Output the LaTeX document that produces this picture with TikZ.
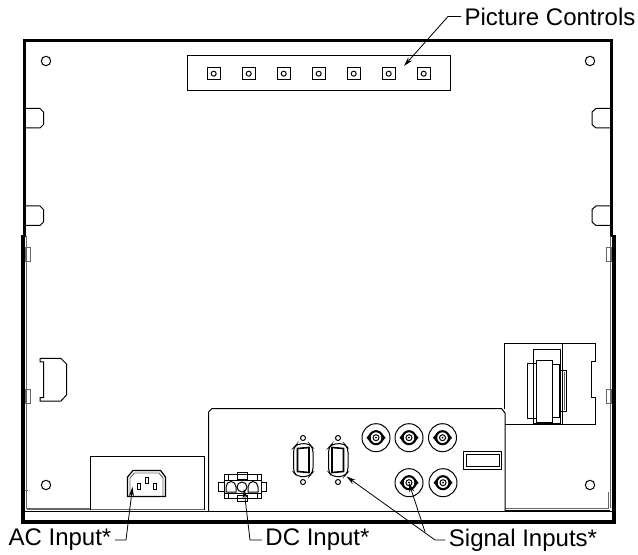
\documentclass[tikz,border=0pt]{standalone}
\usepackage{fontspec}
\usepackage{tikz}
\usetikzlibrary{arrows.meta}
\setmainfont{Liberation Sans}
\tikzset{
	part/.style={line width=0.75pt},
	heavy/.style={line width=2pt},
	faint/.style={line width=0.7pt,black!60},
	calltext/.style={font=\fontsize{18}{20}\selectfont,inner xsep=2.5pt,inner ysep=0pt},
	leader/.style={line width=0.6pt},
	pointer/.style={leader,-{Stealth[length=7pt,width=3.8pt]}},
}
\begin{document}
\begin{tikzpicture}[x=0.75pt,y=-0.75pt]
			\useasboundingbox (0,0) rectangle (638,555);
			% outer frame
			\draw[heavy] (24.5,237) -- (24.5,40.5) -- (611.5,40.5) -- (611.5,237);
			\fill (20.5,235) rectangle (25,523.5);
			\fill (20.5,519.5) rectangle (615.5,523.5);
			\fill (612,235) rectangle (615.5,523.5);
			\draw[faint] (26.5,236) -- (26.5,508) -- (90,508);
			\draw[line width=1.1pt,black!60] (610.5,236) -- (610.5,508);
			\draw[part] (23,511.5) -- (613,511.5);
			\draw[faint] (27,509.5) -- (204,509.5);
			\draw[faint] (505,508) -- (609,508);
			\draw[part] (505,510) -- (610,510);
			\draw[faint] (608,492) -- (608,508);
			\draw[faint] (25,490) -- (27.5,490);
			% mounting holes
			\draw[part] (46,61) circle (4.7);
			\draw[part] (590,61) circle (4.7);
			\draw[part] (46,485) circle (4.7);
			\draw[part] (590,485) circle (4.7);
			% picture controls strip
			\draw[part] (187,56) rectangle (450,90.5);
			\draw[part] (207.5,67.5) rectangle (220,80);
			\draw[part] (242.5,67.5) rectangle (255,80);
			\draw[part] (277.5,67.5) rectangle (290,80);
			\draw[part] (312.5,67.5) rectangle (325,80);
			\draw[part] (347.5,67.5) rectangle (360,80);
			\draw[part] (382.5,67.5) rectangle (395,80);
			\draw[part] (417.5,67.5) rectangle (430,80);
			\draw[part] (213.7,73.7) circle (2.5);
			\draw[part] (248.7,73.7) circle (2.5);
			\draw[part] (283.7,73.7) circle (2.5);
			\draw[part] (318.7,73.7) circle (2.5);
			\draw[part] (353.7,73.7) circle (2.5);
			\draw[part] (388.7,73.7) circle (2.5);
			\draw[part] (423.7,73.7) circle (2.5);
			% side tabs
			\draw[part] (25,108.5) -- (40,108.5) -- (43.5,112) -- (43.5,124.5) -- (40,128) -- (25,128);
			\draw[part] (25,206) -- (40,206) -- (43.5,209.5) -- (43.5,222) -- (40,225.5) -- (25,225.5);
			\draw[part] (611,108.5) -- (596,108.5) -- (592,112) -- (592,124.5) -- (596,128) -- (611,128);
			\draw[part] (611,206) -- (596,206) -- (592,209.5) -- (592,222) -- (596,225.5) -- (611,225.5);
			\draw[faint] (25.5,247) rectangle (30,261);
			\draw[faint] (25.5,389) rectangle (30,403);
			\draw[faint] (606,247) rectangle (611,261);
			\draw[faint] (606,389) rectangle (611,403);
			% D cut-out
			\draw[part] (40,362) -- (40,358.5) -- (61,358.5) -- (66.5,364) -- (66.5,395) -- (61,401) -- (40,401) -- (40,397.5) -- (43.5,397.5) -- (43.5,362) -- cycle;
			% AC inlet
			\draw[part] (90.5,510) -- (90.5,456) -- (204,456) -- (204,510);
			\draw[line width=0.9pt] (127.5,496.5) -- (127.5,477) -- (133,470.5) -- (160.5,470.5) -- (165.5,477) -- (165.5,496.5) -- cycle;
			\draw[faint] (130,496) -- (130,478) -- (134.5,473) -- (159,473) -- (163,478) -- (163,496);
			\draw[part] (137,483.5) rectangle (140.5,489.5);
			\draw[part] (145,477) rectangle (148.5,483.5);
			\draw[part] (153,483.5) rectangle (156.5,489.5);
			% DC inlet
			\draw[part] (224,474.5) rectangle (261,498);
			\draw[part] (237,472.5) rectangle (247,479);
			\draw[part] (218.5,482) rectangle (224,491);
			\draw[part] (261,482) rectangle (266,491);
			\draw[part] (237,495) rectangle (247,501);
			\draw[part] (224,480) -- (261,480);
			\draw[part] (224,493) -- (261,493);
			\draw[part] (228,474.5) -- (228,480);
			\draw[part] (257,474.5) -- (257,480);
			\draw[part] (228,493) -- (228,498);
			\draw[part] (257,493) -- (257,498);
			\draw[part] (226,492) -- (226,487) arc[start angle=180,end angle=360,radius=5,y radius=5.5] -- (236,492) -- cycle;
			\draw[part] (242,487) circle (5);
			\draw[part] (248,492) -- (248,487) arc[start angle=180,end angle=360,radius=5,y radius=5.5] -- (258,492) -- cycle;
			% signal panel
			\draw[part] (208.5,511.5) -- (208.5,412) -- (212,408.5) -- (501.5,408.5) -- (505,413) -- (505,511.5);
			% D-sub connectors
			\draw[part] (303,438) circle (2.5);
			\draw[part] (303,482) circle (2.5);
			\draw[part] (338,438) circle (2.5);
			\draw[part] (338,482) circle (2.5);
			\draw[part,rounded corners=3pt] (293.5,448) -- (297,444) -- (309,443.5) -- (313,448) -- (313,472) -- (309,476.5) -- (297,476.5) -- (293.5,472) -- cycle;
			\draw[line width=1.2pt] (297.5,448.5) -- (309,447.5) -- (309,472.5) -- (297.5,471.5) -- cycle;
			\draw[part,rounded corners=3pt] (328.5,448) -- (332,444) -- (344,443.5) -- (348,448) -- (348,472) -- (344,476.5) -- (332,476.5) -- (328.5,472) -- cycle;
			\draw[line width=1.2pt] (332,447.5) -- (343.5,448.5) -- (343.5,471.5) -- (332,472.5) -- cycle;
			% BNC connectors
			\draw[part] (376,437.7) circle (14);
			\draw[line width=1.6pt] (376,437.7) circle (6.5);
			\draw[part] (376,437.7) circle (3);
			\fill (376,437.7) circle (1);
			\fill (366.5,437.7) -- (370.5,433) -- (370.5,442.4) -- cycle;
			\fill (385.5,437.7) -- (381.5,433) -- (381.5,442.4) -- cycle;
			\draw[part] (409,437.7) circle (14);
			\draw[line width=1.6pt] (409,437.7) circle (6.5);
			\draw[part] (409,437.7) circle (3);
			\fill (409,437.7) circle (1);
			\fill (399.5,437.7) -- (403.5,433) -- (403.5,442.4) -- cycle;
			\fill (418.5,437.7) -- (414.5,433) -- (414.5,442.4) -- cycle;
			\draw[part] (442.5,437.7) circle (14);
			\draw[line width=1.6pt] (442.5,437.7) circle (6.5);
			\draw[part] (442.5,437.7) circle (3);
			\fill (442.5,437.7) circle (1);
			\fill (433,437.7) -- (437,433) -- (437,442.4) -- cycle;
			\fill (452,437.7) -- (448,433) -- (448,442.4) -- cycle;
			\draw[part] (409,482.7) circle (14);
			\draw[line width=1.6pt] (409,482.7) circle (6.5);
			\draw[part] (409,482.7) circle (3);
			\fill (409,482.7) circle (1);
			\fill (399.5,482.7) -- (403.5,478) -- (403.5,487.4) -- cycle;
			\fill (418.5,482.7) -- (414.5,478) -- (414.5,487.4) -- cycle;
			\draw[part] (443,482.7) circle (14);
			\draw[line width=1.6pt] (443,482.7) circle (6.5);
			\draw[part] (443,482.7) circle (3);
			\fill (443,482.7) circle (1);
			\fill (433.5,482.7) -- (437.5,478) -- (437.5,487.4) -- cycle;
			\fill (452.5,482.7) -- (448.5,478) -- (448.5,487.4) -- cycle;
			% slot
			\draw[part] (463.5,451.7) rectangle (501.5,469.5);
			\draw[part] (466,454.5) rectangle (499,466.5);
			% transformer block
			\draw[part] (504,409) -- (504,344) -- (595.7,344) -- (595.7,362) -- (591,362) -- (591,397) -- (595.7,397) -- (595.7,424) -- (504.5,424);
			\draw[part] (562,344) -- (562,424);
			\draw[part] (533.5,349.5) rectangle (560.5,423);
			\draw[part] (536,360.5) rectangle (552,422);
			\draw[part] (527,364) rectangle (536,418);
			\draw[part] (552,365) rectangle (559.5,417);
			\draw[part] (559.5,371) rectangle (566.5,411);
			\draw[faint] (564,372) -- (564,410);
			% labels
			\node[calltext] (ctrllabel) at (550,16.5) {Picture Controls};
			\node[calltext] (aclabel) at (60,540) {AC Input*};
			\node[calltext] (dclabel) at (317.5,540) {DC Input*};
			\node[calltext] (siglabel) at (523,540) {Signal Inputs*};
			\coordinate (ctrlbend) at (448,16.5);
			\coordinate (ctrltip) at (404,66);
			\coordinate (acbend) at (126,540);
			\coordinate (actip) at (132.5,487);
			\coordinate (dcbend) at (250,540);
			\coordinate (dctip) at (244,489);
			\coordinate (sigbend) at (435,540);
			\coordinate (sigsplit) at (425,532);
			\coordinate (sigtipa) at (346.5,476.5);
			\coordinate (sigtipb) at (409,483);
			\draw[pointer] (ctrllabel.west) -- (ctrlbend) -- (ctrltip);
			\draw[pointer] (aclabel.east) -- (acbend) -- (actip);
			\draw[pointer] (dclabel.west) -- (dcbend) -- (dctip);
			\draw[pointer] (siglabel.west) -- (sigbend) -- (sigtipa);
			\draw[pointer] (sigsplit) -- (sigtipb);
		\end{tikzpicture}
\end{document}
